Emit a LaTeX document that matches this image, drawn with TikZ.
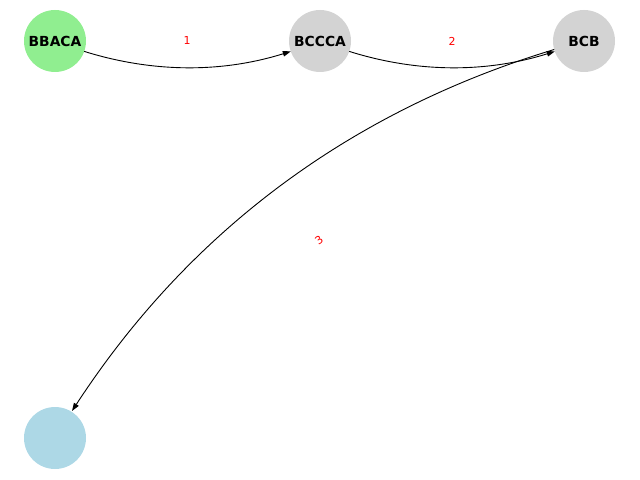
\documentclass[tikz,border=0pt]{standalone}
\usepackage{fontspec}
\setmainfont{DejaVu Sans}
\usetikzlibrary{arrows.meta,calc}
\definecolor{lgreen}{HTML}{90EE90}
\definecolor{lgray}{HTML}{D3D3D3}
\definecolor{lblue}{HTML}{ADD8E6}
\tikzset{
  vert/.style={circle, minimum size=62bp, inner sep=0pt, font=\fontsize{13.9}{16}\selectfont\bfseries},
  edge/.style={draw=black, line width=0.9bp, -{Triangle[length=8bp,width=5.5bp]}},
  elabel/.style={text=red, font=\fontsize{11}{13}\selectfont, inner sep=0pt}
}
\begin{document}
\begin{tikzpicture}[x=1bp,y=-1bp]
\useasboundingbox (0,0) rectangle (640,480);
\node[vert, fill=lgreen] (a) at (55,41) {BBACA};
\node[vert, fill=lgray] (b) at (320,41) {BCCCA};
\node[vert, fill=lgray] (c) at (584,41) {BCB};
\node[vert, fill=lblue] (d) at (55,438) {};
% exit/entry points on the circles
\coordinate (a1) at ($(a.center)+(29.2,10.4)$);
\coordinate (b1) at ($(b.center)+(-29.2,10.4)$);
\coordinate (b2) at ($(b.center)+(29.2,10.4)$);
\coordinate (c2) at ($(c.center)+(-29.2,10.4)$);
\coordinate (c3) at ($(c.center)+(-29.8,8.5)$);
\coordinate (d3) at ($(d.center)+(17.0,-27.0)$);
% cubic controls (from quadratic arcs)
\coordinate (k1a) at (153.1,72.9);
\coordinate (k1b) at (221.9,72.9);
\coordinate (k2a) at (417.7,72.9);
\coordinate (k2b) at (486.3,72.9);
\coordinate (k3a) at (349.5,111.4);
\coordinate (k3b) at (188.8,231.9);
\draw[edge] (a1) .. controls (k1a) and (k1b) .. (b1);
\draw[edge] (b2) .. controls (k2a) and (k2b) .. (c2);
\draw[edge] (c3) .. controls (k3a) and (k3b) .. (d3);
\node[elabel] (l1) at (187,41) {1};
\node[elabel] (l2) at (452,41) {2};
\node[elabel, rotate=37] (l3) at (319,240) {3};
\end{tikzpicture}
\end{document}
